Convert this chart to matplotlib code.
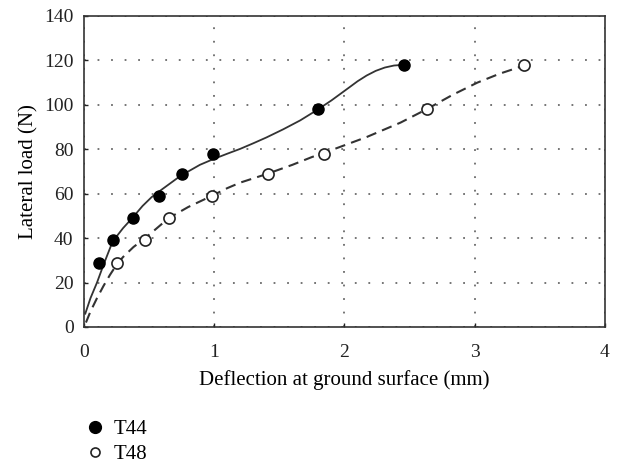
import matplotlib
matplotlib.use("Agg")
import matplotlib.pyplot as plt
from matplotlib.lines import Line2D

# Measured data points
t44_x = [0.115, 0.22, 0.376, 0.576, 0.75, 0.99, 1.80, 2.46]
t44_y = [29, 39, 49, 59, 69, 78, 98, 118]
t48_x = [0.25, 0.47, 0.65, 0.98, 1.41, 1.84, 2.63, 3.38]
t48_y = [29, 39, 49, 59, 69, 78, 98, 118]

# Fitted curves
fit44_x = [0.01, 0.05, 0.10, 0.15, 0.22, 0.30, 0.37, 0.45, 0.52, 0.60, 0.74, 0.89,
           0.99, 1.10, 1.20, 1.30, 1.40, 1.53, 1.66, 1.79, 1.90, 1.97, 2.04, 2.10,
           2.17, 2.24, 2.31, 2.38, 2.45]
fit44_y = [6, 13, 20, 28, 38.5, 44.5, 49, 54.5, 58.5, 62, 68, 73,
           75.5, 78, 80.2, 82.7, 85.3, 89, 93, 97.7, 102, 105, 108, 110.6,
           113.2, 115.3, 116.8, 117.7, 118]
fit48_x = [0.015, 0.05, 0.10, 0.15, 0.20, 0.25, 0.30, 0.38, 0.47, 0.55, 0.65, 0.80,
           0.98, 1.10, 1.20, 1.41, 1.60, 1.75, 1.85, 1.94, 2.17, 2.43, 2.63,
           2.83, 3.02, 3.19, 3.37]
fit48_y = [2, 7, 13, 18.5, 23.5, 28, 31.5, 36, 40, 44, 49, 54,
           59, 62.5, 65, 69, 73, 76.5, 78.5, 80.5, 85.5, 92, 98,
           104.5, 110, 114, 117.5]

x_ticks = [0, 1, 2, 3, 4]
y_ticks = [0, 20, 40, 60, 80, 100, 120, 140]
series_labels = ["T44", "T48"]

plt.rcParams['font.family'] = ['Liberation Serif', 'DejaVu Serif']

fig = plt.figure(figsize=(6.23, 4.66), dpi=100)
ax = fig.add_axes([0.1348, 0.2983, 0.8363, 0.6674])

ax.plot(fit44_x, fit44_y, color='#333333', lw=1.3, ls='-', zorder=2)
ax.plot(fit48_x, fit48_y, color='#333333', lw=1.5, ls=(0, (5, 3)), zorder=2)
ax.plot(t44_x, t44_y, ls='none', marker='o', ms=8, mfc='black', mec='black', zorder=3)
ax.plot(t48_x, t48_y, ls='none', marker='o', ms=8, mfc='white', mec='#222222',
        mew=1.2, zorder=3)

ax.set_xlim(0, 4)
ax.set_ylim(0, 140)
ax.set_xticks(x_ticks)
ax.set_yticks(y_ticks)
ax.tick_params(direction='in', length=3, width=1, labelsize=14, colors='#222222')
ax.tick_params(axis='x', pad=12)
ax.tick_params(axis='y', pad=7.5)
ax.grid(True, color='#6a6a6a', ls=(0, (1, 6.5)), lw=1.3)
for s in ax.spines.values():
    s.set_linewidth(1.2)
    s.set_color('#333333')

ax.set_xlabel("Deflection at ground surface (mm)", fontsize=15, labelpad=7)
ax.set_ylabel("Lateral load (N)", fontsize=15, labelpad=4)

handles = [
    Line2D([], [], ls='none', marker='o', ms=8.5, mfc='black', mec='black'),
    Line2D([], [], ls='none', marker='o', ms=6.5, mfc='white', mec='#222222', mew=1.2),
]
fig.legend(handles, series_labels, loc='upper left', bbox_to_anchor=(0.136, 0.099),
           frameon=False, fontsize=15, handlelength=1.0, handletextpad=0.4,
           labelspacing=0.25, borderpad=0, borderaxespad=0)

fig.savefig("out.png", dpi=100, facecolor='white')
